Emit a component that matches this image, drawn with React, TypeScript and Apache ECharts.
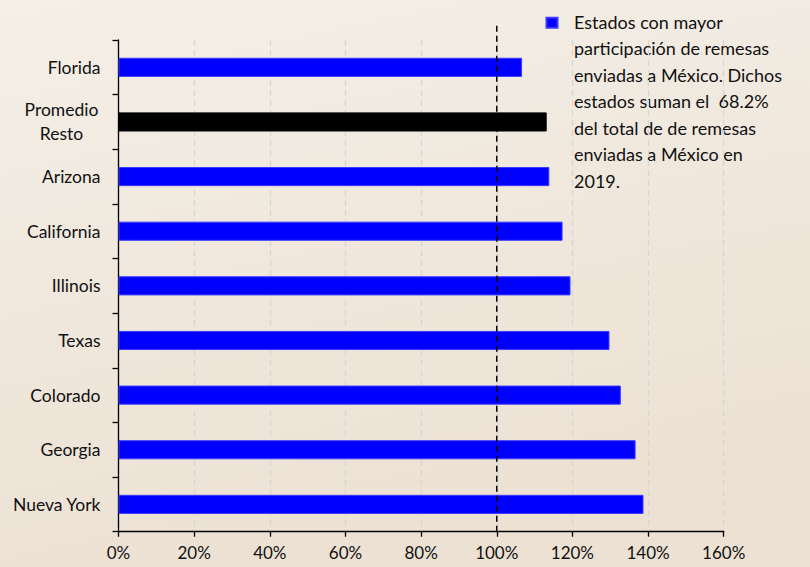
import React, { useEffect, useRef } from "react";
import * as echarts from "echarts";

const categories = [
  "Florida",
  "Promedio Resto",
  "Arizona",
  "California",
  "Illinois",
  "Texas",
  "Colorado",
  "Georgia",
  "Nueva York",
];
const values = [106.7, 113.2, 113.9, 117.4, 119.5, 129.8, 132.8, 136.7, 138.8];
const highlightCategory = "Promedio Resto";
const xTicks = [0, 20, 40, 60, 80, 100, 120, 140, 160];
const referenceValue = 100;
const seriesName = "Estados con mayor participación de remesas enviadas a México";
const noteLines = [
  "Estados con mayor",
  "participación de remesas",
  "enviadas a México. Dichos",
  "estados suman el  68.2%",
  "del total de de remesas",
  "enviadas a México en",
  "2019.",
];

const FONT = "Lato, 'Open Sans', sans-serif";

export default function App() {
  const ref = useRef<HTMLDivElement>(null);
  useEffect(() => {
    if (!ref.current) return;
    const chart = echarts.init(ref.current, undefined, { renderer: "svg" });
    const gridLeft = 118.5;
    const gridRight = 86.3;
    const gridBottom = 35.3;
    chart.setOption({
      animation: false,
      backgroundColor: {
        type: "linear",
        x: 0,
        y: 0,
        x2: 0.3,
        y2: 1,
        colorStops: [
          { offset: 0, color: "#f4efe7" },
          { offset: 1, color: "#ece1d3" },
        ],
      },
      textStyle: { fontFamily: FONT },
      legend: {
        left: 545.5,
        top: 16.7,
        padding: 0,
        itemWidth: 11,
        itemHeight: 10,
        icon: "rect",
        formatter: () => "",
        data: [seriesName],
        textStyle: { fontSize: 1 },
      },
      grid: [
        { left: gridLeft, right: gridRight, top: 40, bottom: gridBottom, containLabel: false },
        { left: gridLeft, right: gridRight, top: 22, bottom: gridBottom, containLabel: false },
      ],
      xAxis: [
        {
          type: "value",
          gridIndex: 0,
          min: xTicks[0],
          max: xTicks[xTicks.length - 1],
          interval: 20,
          axisLine: { show: true, lineStyle: { color: "#000", width: 1.3 } },
          axisTick: { show: true, length: 5, lineStyle: { color: "#000", width: 1.3 } },
          axisLabel: {
            formatter: (v: number) => `${v}%`,
            fontSize: 17,
            color: "#111",
            margin: 12,
            fontFamily: FONT,
          },
          splitLine: {
            show: true,
            lineStyle: { color: "#d8d6d2", type: [6, 4], width: 1.3 },
          },
        },
        {
          type: "value",
          gridIndex: 1,
          min: xTicks[0],
          max: xTicks[xTicks.length - 1],
          show: false,
        },
      ],
      yAxis: [
        {
          type: "category",
          gridIndex: 0,
          data: categories,
          inverse: true,
          axisLine: { show: true, lineStyle: { color: "#000", width: 1.3 } },
          axisTick: { show: true, length: 6, lineStyle: { color: "#000", width: 1.3 } },
          axisLabel: {
            fontSize: 17.5,
            color: "#111",
            margin: 18,
            fontFamily: FONT,
            formatter: (v: string) =>
              v === highlightCategory ? v.split(" ").map((s) => `{c|${s}}`).join("\n") : v,
            rich: {
              c: {
                width: 78,
                align: "center",
                lineHeight: 24,
                fontSize: 17.5,
                color: "#111",
                fontFamily: FONT,
              },
            },
          },
          splitLine: { show: false },
        },
        {
          type: "value",
          gridIndex: 1,
          min: 0,
          max: 1,
          show: false,
        },
      ],
      series: [
        {
          name: seriesName,
          type: "bar",
          xAxisIndex: 0,
          yAxisIndex: 0,
          barWidth: "35%",
          itemStyle: { color: "#0000ff", borderColor: "#3a3aff", borderWidth: 1 },
          data: categories.map((c, i) => ({
            value: values[i],
            itemStyle:
              c === highlightCategory
                ? { color: "#000000", borderColor: "#000000" }
                : undefined,
          })),
        },
        {
          name: "ref",
          type: "line",
          xAxisIndex: 1,
          yAxisIndex: 1,
          symbol: "none",
          lineStyle: { color: "#000", width: 1.5, type: [6, 4] },
          data: [
            [referenceValue, 0],
            [referenceValue, 1],
          ],
          z: 5,
        },
      ],
      graphic: [
        {
          type: "text",
          left: 574,
          top: 8.5,
          style: {
            text: noteLines.join("\n"),
            fontSize: 18,
            lineHeight: 26.5,
            fill: "#111",
            fontFamily: FONT,
          },
        },
      ],
    });
    return () => chart.dispose();
  }, []);
  return <div ref={ref} style={{ width: 810, height: 567, position: "absolute", left: 0, top: 0 }} />;
}
